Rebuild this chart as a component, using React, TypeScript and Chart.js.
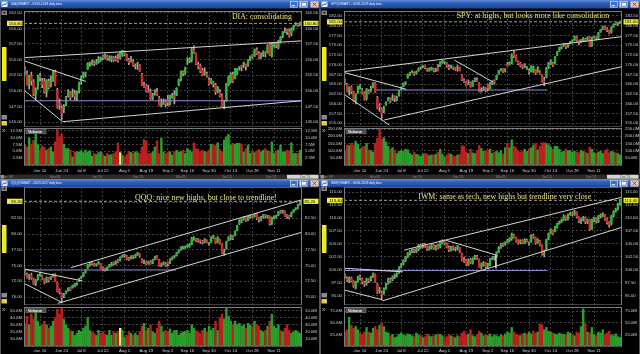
import React, { useEffect, useRef } from 'react';
import { Chart, registerables } from 'chart.js';

Chart.register(...registerables);

// ---------- shared axis data ----------
const xTickIdx = [7, 17, 26, 36, 46, 56, 66, 75, 85, 95, 105, 115];
const xTickNames = ['Jun 10', 'Jun 24', 'Jul 8', 'Jul 22', 'Aug 5', 'Aug 19', 'Sep 2', 'Sep 16', 'Sep 30', 'Oct 14', 'Oct 28', 'Nov 11'];
const navLabels = ['Dec 08', "Mar'09", "Jun'10", "Dec'10", "Mar'11", "Jun'12", "Dec'12", "Dec'13"];
const navLabelX = [2, 50, 92, 133, 176, 222, 266, 300];

// ---------- DIA ----------
const diaOpen = [
  153.4, 152.8, 151.1, 152.4, 151.4, 149.4, 150.4, 152.3, 151.6, 151.5,
  149.8, 151.5, 150.8, 151.7, 153.0, 150.1, 147.9, 147.2, 147.0, 147.8,
  149.2, 149.7, 149.4, 149.5, 148.9, 150.0, 151.5, 152.3, 152.7, 153.5,
  154.2, 154.4, 154.6, 154.4, 154.6, 155.0, 155.4, 155.4, 155.6, 155.0,
  155.0, 155.3, 155.2, 155.1, 155.2, 155.8, 156.2, 155.7, 155.0, 154.8,
  154.7, 153.9, 154.3, 154.1, 152.6, 150.9, 150.8, 149.9, 149.8, 148.9,
  149.8, 149.8, 148.8, 147.6, 148.0, 148.3, 148.6, 148.0, 149.1, 149.3,
  149.3, 151.0, 151.8, 153.0, 152.9, 154.6, 154.7, 155.1, 156.6, 156.0,
  154.2, 154.0, 153.3, 152.6, 152.8, 151.7, 151.3, 151.2, 150.9, 149.9,
  149.8, 149.2, 147.8, 148.4, 151.0, 151.5, 152.6, 152.0, 152.9, 153.6,
  153.9, 154.2, 154.2, 154.1, 155.0, 155.6, 155.6, 156.6, 156.0, 155.6,
  155.9, 156.1, 156.1, 157.4, 155.6, 157.4, 157.4, 156.9, 158.0, 158.7,
  159.4, 159.7, 159.6, 159.1, 160.0, 160.5, 160.6, 160.6,
];
const diaHigh = [
  153.9, 153.2, 152.5, 153.0, 151.8, 150.5, 152.5, 152.8, 152.0, 152.0,
  151.8, 151.9, 152.4, 153.2, 153.3, 150.4, 148.7, 147.6, 147.8, 149.1,
  150.2, 149.9, 150.3, 150.1, 149.9, 151.4, 152.4, 153.0, 153.0, 154.5,
  154.6, 154.9, 154.8, 155.0, 155.5, 155.4, 155.7, 155.9, 155.7, 155.6,
  155.6, 155.5, 155.6, 155.9, 156.3, 156.5, 156.4, 155.9, 155.2, 155.5,
  155.0, 154.3, 154.6, 154.2, 152.8, 151.4, 151.0, 150.9, 150.3, 149.6,
  150.2, 150.4, 149.1, 148.7, 148.7, 148.6, 149.3, 149.3, 149.6, 150.0,
  150.5, 151.9, 153.2, 153.2, 153.8, 155.3, 155.3, 156.9, 157.2, 156.1,
  154.6, 154.3, 153.6, 153.7, 153.0, 152.1, 152.0, 151.5, 151.2, 150.7,
  150.2, 149.5, 148.5, 151.2, 152.4, 152.9, 153.0, 153.6, 153.6, 153.9,
  154.1, 154.6, 154.3, 155.0, 155.6, 155.8, 156.7, 156.9, 156.3, 156.1,
  156.4, 156.3, 157.4, 157.6, 157.6, 157.8, 157.6, 158.1, 158.7, 159.5,
  160.1, 159.9, 159.9, 160.1, 160.5, 160.9, 160.8, 161.0,
];
const diaLow = [
  152.6, 150.9, 150.3, 150.9, 149.2, 148.6, 150.2, 151.5, 150.5, 149.6,
  149.0, 150.3, 150.6, 151.5, 150.8, 147.2, 147.0, 145.4, 146.5, 147.6,
  149.0, 148.5, 149.0, 148.5, 148.4, 149.6, 151.0, 152.0, 152.2, 153.4,
  153.9, 154.1, 154.0, 154.2, 154.4, 154.7, 155.0, 155.2, 154.9, 154.8,
  154.6, 154.7, 154.8, 154.6, 155.1, 155.5, 155.6, 154.8, 154.2, 154.6,
  153.9, 153.5, 153.4, 153.1, 150.8, 150.5, 149.8, 149.7, 148.6, 148.6,
  149.3, 149.2, 147.6, 147.4, 147.8, 147.4, 147.6, 147.7, 148.8, 147.9,
  149.2, 150.8, 151.6, 152.4, 152.6, 154.2, 154.5, 154.6, 156.0, 154.2,
  153.5, 152.9, 152.4, 152.5, 152.2, 150.9, 151.1, 150.6, 149.4, 149.7,
  149.0, 147.5, 147.1, 148.3, 150.8, 151.3, 151.3, 151.9, 152.6, 153.3,
  153.2, 153.7, 153.3, 153.9, 154.8, 155.2, 155.5, 155.8, 155.1, 155.2,
  155.5, 155.4, 156.0, 155.6, 155.4, 157.0, 156.9, 156.7, 157.8, 158.5,
  159.3, 159.0, 158.6, 158.8, 159.7, 160.4, 160.3, 160.4,
];
const diaClose = [
  153.0, 151.0, 152.3, 151.6, 149.4, 150.2, 152.3, 152.2, 151.0, 149.8,
  151.6, 150.5, 151.6, 153.0, 150.9, 147.4, 147.8, 146.4, 147.4, 148.9,
  150.0, 148.9, 149.6, 149.1, 149.7, 151.2, 152.1, 152.8, 152.7, 154.4,
  154.4, 154.6, 154.3, 154.5, 155.3, 155.2, 155.3, 155.5, 155.2, 155.4,
  155.4, 155.0, 155.0, 154.8, 156.1, 156.4, 155.9, 155.0, 154.5, 154.8,
  154.1, 154.0, 154.3, 153.2, 150.9, 150.6, 149.9, 149.8, 148.8, 149.4,
  149.9, 149.3, 147.6, 148.0, 148.2, 147.9, 148.1, 149.1, 149.2, 149.0,
  150.4, 151.7, 153.1, 152.8, 153.6, 154.7, 155.1, 156.6, 156.2, 154.3,
  153.8, 153.1, 152.5, 153.1, 152.4, 151.1, 151.7, 151.1, 149.8, 150.5,
  149.2, 147.6, 147.8, 151.1, 152.2, 152.8, 151.5, 153.5, 153.5, 153.8,
  153.7, 154.5, 153.9, 154.9, 155.5, 155.5, 156.6, 156.0, 155.3, 155.9,
  156.2, 156.0, 157.3, 155.7, 157.4, 157.6, 157.3, 158.0, 158.6, 159.4,
  159.6, 159.5, 158.8, 159.9, 160.4, 160.5, 160.5, 160.8,
];
const diaVol = [
  7.5, 6.6, 10, 7.6, 9, 11.2, 7.5, 5.4, 6.9, 6.4,
  5.4, 6, 6.6, 4.6, 8.5, 13, 10.3, 11.2, 7.6, 6,
  6, 5.4, 3, 4.8, 4.8, 4.8, 5.2, 4.5, 5.4, 4.8,
  5.2, 3.2, 4.2, 3.8, 4.5, 4.8, 3.8, 3.2, 4.2, 3.6,
  3.8, 4.2, 4.8, 8.1, 4.5, 3.6, 3, 3.8, 5, 4.6,
  4.2, 4.8, 4.5, 4.2, 6.6, 9.3, 8.7, 4.2, 4.2, 4.8,
  6.6, 8.8, 4.2, 9.7, 4.8, 4.2, 4.6, 4.8, 3.6, 4.8,
  5.4, 4.8, 4.8, 5.4, 4.2, 6, 5.4, 4.8, 8.1, 6,
  5.7, 4.8, 5.4, 4.8, 4.8, 5.4, 7.6, 7.3, 7.3, 8.1,
  5.7, 4.8, 9.1, 10.3, 11.2, 7.3, 7.9, 7.6, 7.9, 7.9,
  7.6, 4.8, 6, 7.3, 4.2, 5.2, 4.5, 5.2, 5.7, 4.8,
  5.4, 6, 5.2, 4.8, 8.5, 4.2, 5.2, 5.4, 7.3, 4.8,
  4.8, 5.4, 5.2, 8.1, 4.2, 4.2, 4.2, 5.4,
];
const diaLines = [
  [-0.4, 155.3, 127.9, 158.0],
  [17.4, 145.05, 127.9, 148.4],
  [-0.4, 154.8, 28.2, 151.5],
  [-0.4, 150.1, 17.4, 145.05],
];
const diaSupport = [[-0.4, 148.4, 127.9, 148.4]];

// ---------- SPY ----------
const spyOpen = [
  165.9, 165.0, 163.2, 164.2, 162.9, 160.9, 162.8, 164.3, 163.5, 162.6,
  161.4, 163.2, 163.2, 164.1, 165.2, 161.6, 159.5, 158.6, 158.2, 159.7,
  160.8, 161.2, 161.1, 161.8, 161.0, 162.2, 164.0, 164.5, 165.3, 166.6,
  167.3, 168.1, 167.9, 167.8, 168.4, 169.2, 169.5, 169.6, 169.0, 168.5,
  168.7, 168.9, 168.5, 169.3, 169.5, 170.5, 170.6, 170.3, 169.4, 169.3,
  169.4, 169.1, 169.2, 169.3, 167.4, 165.9, 165.6, 164.9, 165.3, 164.5,
  165.8, 166.0, 165.2, 163.0, 163.6, 163.9, 164.8, 163.8, 165.1, 165.9,
  166.3, 167.7, 168.4, 168.9, 168.6, 170.1, 170.0, 170.4, 173.0, 172.3,
  170.8, 170.4, 169.9, 169.3, 169.0, 168.3, 168.2, 168.3, 168.7, 168.2,
  168.2, 167.3, 165.7, 166.7, 169.2, 170.0, 170.3, 170.2, 172.5, 173.5,
  174.4, 174.8, 175.3, 174.8, 175.5, 176.1, 176.3, 177.1, 176.2, 176.0,
  176.2, 176.4, 176.7, 177.1, 175.0, 176.9, 176.9, 176.8, 178.4, 179.3,
  179.8, 179.2, 178.7, 178.4, 179.8, 180.6, 180.5, 180.6,
];
const spyHigh = [
  166.3, 165.2, 164.3, 164.6, 163.2, 162.5, 164.5, 164.9, 163.9, 163.0,
  163.9, 163.6, 164.5, 165.4, 165.4, 161.9, 160.0, 158.9, 159.3, 160.5,
  161.6, 161.5, 162.3, 162.0, 161.9, 163.4, 164.3, 165.3, 165.6, 167.6,
  168.1, 168.5, 168.2, 168.4, 169.2, 169.4, 169.8, 169.7, 169.1, 169.2,
  169.4, 169.1, 169.1, 170.0, 170.8, 171.1, 170.9, 170.5, 169.9, 169.9,
  169.5, 169.3, 169.8, 169.4, 167.5, 166.4, 165.7, 166.1, 165.6, 165.9,
  166.6, 166.6, 165.4, 164.1, 164.4, 164.1, 165.0, 165.4, 165.9, 166.1,
  167.3, 168.5, 169.0, 169.0, 169.0, 170.6, 170.7, 172.8, 173.6, 172.4,
  171.0, 170.6, 170.0, 170.3, 169.5, 168.9, 169.8, 169.6, 168.8, 169.5,
  168.5, 167.4, 166.8, 169.3, 170.6, 171.3, 170.6, 172.1, 173.4, 174.5,
  174.6, 175.5, 175.4, 175.4, 176.0, 176.3, 177.4, 177.3, 176.3, 176.5,
  177.0, 176.8, 177.2, 177.2, 177.1, 177.3, 177.2, 178.3, 179.1, 179.9,
  180.0, 179.5, 178.9, 179.8, 180.5, 180.8, 180.9, 181.2,
];
const spyLow = [
  164.9, 163.0, 162.2, 162.5, 160.6, 159.9, 162.6, 163.7, 162.4, 160.9,
  160.9, 162.5, 163.0, 164.0, 162.8, 158.6, 158.0, 155.9, 157.7, 159.5,
  160.7, 160.2, 160.8, 160.5, 160.7, 161.9, 163.5, 164.3, 164.8, 166.5,
  167.2, 167.9, 167.2, 167.6, 168.3, 168.8, 169.2, 168.9, 168.3, 168.3,
  168.6, 168.1, 168.2, 168.4, 169.5, 170.3, 170.2, 169.3, 168.7, 169.1,
  168.8, 168.5, 168.3, 168.4, 165.9, 165.4, 164.5, 164.9, 164.2, 164.4,
  165.6, 165.6, 163.0, 163.0, 163.4, 163.0, 163.3, 163.8, 164.9, 165.0,
  166.1, 167.5, 168.4, 168.0, 168.1, 169.6, 169.9, 170.2, 171.8, 170.9,
  170.0, 169.4, 169.0, 169.2, 168.8, 167.6, 168.1, 168.0, 167.5, 168.0,
  167.5, 165.5, 164.6, 166.6, 169.0, 170.0, 169.5, 170.2, 172.3, 173.4,
  174.0, 174.6, 174.1, 174.4, 175.3, 175.7, 176.2, 176.0, 175.1, 175.6,
  175.9, 175.9, 176.3, 174.6, 174.7, 176.8, 176.3, 176.4, 178.3, 179.0,
  178.9, 178.5, 177.9, 178.1, 179.6, 180.2, 180.1, 180.5,
];
const spyClose = [
  165.4, 163.1, 164.0, 163.1, 160.9, 162.3, 164.3, 164.3, 162.6, 161.2,
  163.6, 162.7, 163.9, 165.2, 162.9, 158.8, 159.2, 157.3, 158.8, 160.3,
  161.3, 160.6, 161.4, 161.4, 161.5, 163.2, 164.0, 165.2, 165.3, 167.5,
  168.0, 168.2, 167.6, 168.1, 168.9, 169.2, 169.5, 169.2, 168.6, 169.0,
  169.2, 168.5, 168.6, 168.6, 170.7, 171.0, 170.7, 169.7, 169.1, 169.7,
  169.1, 168.9, 169.4, 168.5, 166.1, 165.6, 164.6, 165.2, 164.3, 165.7,
  166.3, 165.7, 163.0, 163.5, 163.8, 163.3, 164.0, 165.3, 165.5, 165.5,
  167.2, 168.4, 168.9, 168.3, 168.8, 169.8, 170.5, 172.5, 172.2, 171.0,
  170.2, 169.7, 169.3, 169.9, 169.2, 168.1, 169.5, 169.4, 167.9, 169.0,
  167.6, 165.5, 165.6, 169.2, 170.3, 171.0, 169.8, 172.1, 173.3, 174.4,
  174.4, 175.4, 174.6, 175.2, 175.9, 176.2, 177.2, 176.3, 175.6, 176.2,
  176.8, 176.3, 177.0, 174.7, 177.0, 177.2, 176.8, 178.2, 179.0, 179.8,
  179.1, 178.8, 178.1, 179.6, 180.4, 180.5, 180.6, 181.0,
];
const spyVol = [
  95, 140, 135, 150, 140, 165, 145, 110, 125, 130,
  150, 105, 100, 90, 150, 185, 250, 180, 190, 160,
  130, 110, 120, 100, 80, 95, 100, 95, 110, 105,
  80, 70, 90, 75, 70, 60, 75, 80, 75, 65,
  70, 70, 75, 90, 110, 75, 55, 70, 80, 75,
  65, 60, 70, 75, 135, 130, 90, 80, 110, 85,
  80, 100, 135, 115, 95, 100, 100, 110, 80, 90,
  95, 85, 100, 75, 120, 150, 120, 175, 130, 120,
  100, 90, 95, 110, 95, 110, 120, 140, 150, 105,
  130, 155, 155, 150, 140, 125, 110, 130, 130, 110,
  90, 95, 110, 100, 100, 90, 95, 90, 85, 100,
  95, 90, 80, 125, 110, 85, 80, 90, 95, 80,
  100, 110, 85, 95, 90, 85, 80, 70,
];
const spyLines = [
  [-0.4, 168.2, 127.9, 177.2],
  [18.2, 155.8, 127.9, 169.5],
  [-0.4, 168.0, 28.2, 163.7],
  [-0.4, 162.4, 20.5, 154.5],
  [50.5, 171.2, 68.1, 165.6],
];
const spySupport = [[14.4, 163.5, 93.5, 163.5]];

// ---------- QQQ ----------
const qqqOpen = [
  74.0, 73.6, 73.2, 73.5, 72.9, 72.2, 72.8, 73.5, 73.4, 72.8,
  72.5, 73.0, 72.9, 73.3, 73.5, 72.3, 71.1, 70.5, 70.2, 70.6,
  71.0, 71.5, 71.5, 71.7, 72.0, 72.6, 73.0, 73.3, 73.9, 74.6,
  75.1, 75.4, 75.3, 75.1, 75.3, 75.2, 74.6, 74.5, 74.3, 74.8,
  75.0, 75.4, 75.4, 75.8, 75.8, 76.4, 76.6, 76.5, 76.1, 76.1,
  76.5, 76.3, 76.7, 76.8, 76.0, 75.5, 75.6, 75.3, 75.6, 75.4,
  76.0, 76.4, 75.9, 74.9, 75.2, 75.3, 75.5, 75.4, 76.0, 76.4,
  76.6, 77.1, 77.5, 77.9, 77.8, 78.1, 78.0, 78.4, 79.3, 79.2,
  79.1, 78.9, 78.9, 78.7, 79.0, 78.4, 78.7, 79.4, 79.3, 78.7,
  79.1, 78.4, 76.9, 77.7, 79.0, 79.2, 79.5, 79.8, 80.6, 81.6,
  82.1, 82.4, 82.7, 82.3, 82.7, 82.9, 82.8, 83.2, 82.6, 82.3,
  82.7, 83.0, 82.7, 82.8, 81.7, 82.6, 82.6, 83.0, 83.6, 83.5,
  83.6, 82.9, 82.9, 82.8, 83.5, 83.9, 84.1, 84.7,
];
const qqqHigh = [
  74.2, 73.8, 73.6, 73.8, 73.0, 72.8, 73.6, 73.9, 73.5, 72.9,
  73.2, 73.1, 73.3, 73.7, 73.7, 72.4, 71.3, 70.6, 70.6, 71.0,
  71.5, 71.6, 71.9, 72.2, 72.3, 73.0, 73.3, 73.9, 74.3, 75.2,
  75.5, 75.6, 75.4, 75.3, 75.7, 75.3, 74.8, 74.6, 74.8, 75.2,
  75.5, 75.6, 75.8, 76.0, 76.4, 76.7, 76.8, 76.6, 76.3, 76.6,
  76.6, 76.8, 77.1, 76.9, 76.1, 75.9, 75.7, 75.7, 75.8, 76.0,
  76.5, 76.6, 76.0, 75.4, 75.6, 75.5, 75.6, 76.1, 76.4, 76.6,
  77.1, 77.5, 78.0, 78.1, 78.1, 78.3, 78.5, 79.5, 79.6, 79.3,
  79.3, 79.1, 79.0, 79.3, 79.1, 78.7, 79.6, 79.8, 79.4, 79.6,
  79.2, 78.5, 77.6, 78.9, 79.6, 79.9, 79.7, 80.5, 81.4, 82.3,
  82.4, 82.8, 82.8, 82.8, 83.0, 83.0, 83.2, 83.3, 82.7, 82.8,
  83.1, 83.1, 83.0, 82.9, 82.7, 82.9, 83.0, 83.6, 83.8, 83.8,
  83.7, 83.1, 83.0, 83.5, 83.9, 84.2, 84.7, 85.3,
];
const qqqLow = [
  73.5, 73.0, 72.8, 72.8, 72.0, 71.8, 72.7, 73.3, 72.8, 72.1,
  72.3, 72.4, 72.8, 73.2, 72.5, 70.8, 70.5, 69.3, 69.9, 70.5,
  70.9, 71.0, 71.4, 71.6, 71.9, 72.5, 72.9, 73.2, 73.8, 74.5,
  74.9, 75.1, 74.9, 74.9, 75.2, 74.5, 74.2, 74.1, 74.2, 74.7,
  74.9, 75.1, 75.2, 75.4, 75.7, 76.3, 76.3, 75.9, 75.8, 76.0,
  76.1, 76.2, 76.6, 76.3, 75.4, 75.3, 75.1, 75.2, 75.2, 75.3,
  75.9, 76.0, 74.9, 74.8, 75.1, 74.8, 74.9, 75.3, 75.9, 76.2,
  76.5, 77.0, 77.4, 77.6, 77.7, 77.9, 77.9, 78.3, 79.0, 78.8,
  78.7, 78.5, 78.4, 78.6, 78.6, 78.2, 78.6, 79.3, 78.5, 78.6,
  78.4, 76.9, 76.6, 77.6, 78.9, 79.1, 79.1, 79.7, 80.5, 81.5,
  81.8, 82.2, 82.0, 82.1, 82.5, 82.6, 82.7, 82.3, 81.9, 82.1,
  82.5, 82.6, 82.5, 81.4, 81.5, 82.4, 82.5, 82.9, 83.3, 83.3,
  82.8, 82.5, 82.4, 82.7, 83.4, 83.8, 84.0, 84.6,
];
const qqqClose = [
  73.8, 73.1, 73.4, 73.0, 72.1, 72.6, 73.5, 73.6, 72.9, 72.3,
  73.1, 72.6, 73.2, 73.6, 72.6, 70.9, 70.8, 69.9, 70.4, 70.9,
  71.4, 71.2, 71.8, 72.1, 72.2, 72.9, 73.2, 73.8, 74.2, 75.1,
  75.3, 75.3, 75.0, 75.2, 75.5, 74.6, 74.4, 74.3, 74.6, 75.1,
  75.3, 75.3, 75.7, 75.6, 76.3, 76.6, 76.6, 76.1, 76.0, 76.4,
  76.4, 76.7, 77.0, 76.5, 75.5, 75.6, 75.2, 75.5, 75.3, 75.9,
  76.4, 76.1, 74.9, 75.1, 75.4, 74.9, 75.3, 76.0, 76.3, 76.5,
  77.0, 77.4, 77.9, 77.9, 78.0, 78.1, 78.4, 79.4, 79.3, 79.0,
  78.9, 78.8, 78.6, 79.1, 78.7, 78.5, 79.5, 79.6, 78.6, 79.4,
  78.5, 77.0, 77.1, 78.8, 79.4, 79.7, 79.3, 80.4, 81.3, 82.1,
  82.2, 82.6, 82.2, 82.6, 82.8, 82.8, 83.1, 82.5, 82.3, 82.6,
  83.0, 82.8, 82.9, 81.6, 82.6, 82.7, 82.9, 83.5, 83.5, 83.6,
  82.9, 82.8, 82.6, 83.4, 83.8, 84.0, 84.6, 85.2,
];
const qqqVol = [
  32, 42, 30, 45, 38, 48, 35, 28, 30, 35,
  30, 25, 28, 35, 40, 52, 45, 55, 38, 30,
  25, 22, 20, 15, 18, 22, 20, 25, 28, 40,
  22, 20, 18, 15, 22, 18, 20, 17, 15, 22,
  15, 20, 18, 20, 25, 22, 12, 15, 20, 18,
  15, 18, 15, 20, 28, 32, 22, 25, 30, 20,
  18, 25, 35, 28, 20, 22, 20, 24, 18, 22,
  22, 15, 18, 20, 20, 22, 18, 30, 25, 22,
  20, 18, 22, 25, 20, 28, 22, 25, 35, 22,
  40, 45, 38, 58, 42, 35, 30, 35, 30, 32,
  28, 30, 25, 32, 30, 28, 35, 30, 28, 22,
  20, 22, 28, 35, 45, 28, 25, 30, 22, 20,
  25, 30, 22, 18, 20, 22, 20, 18,
];
const qqqLines = [
  [21.3, 74.67, 127.9, 85.45],
  [15.2, 69.0, 127.9, 80.3],
  [-0.4, 74.45, 26.7, 72.55],
  [-0.4, 72.18, 17.4, 69.1],
];
const qqqSupport = [[-0.4, 74.3, 69.7, 74.3]];

// ---------- IWM ----------
const iwmOpen = [
  98.9, 98.4, 97.9, 98.4, 97.7, 96.8, 97.8, 98.6, 98.2, 97.5,
  97.3, 98.1, 98.0, 98.6, 99.1, 97.3, 95.9, 95.6, 95.6, 96.4,
  97.4, 98.1, 98.1, 98.6, 99.0, 99.5, 100.6, 101.1, 101.8, 102.5,
  103.0, 103.5, 103.8, 103.5, 103.9, 104.7, 104.4, 104.9, 104.4, 104.0,
  104.2, 104.8, 104.0, 104.6, 104.4, 105.2, 105.5, 105.0, 104.3, 103.8,
  104.4, 104.0, 104.3, 104.2, 103.1, 101.9, 101.8, 101.0, 101.9, 101.3,
  102.2, 102.5, 102.0, 100.6, 100.9, 101.3, 100.9, 101.0, 102.1, 102.3,
  102.5, 103.4, 104.3, 104.9, 104.9, 105.4, 105.6, 106.0, 106.7, 106.2,
  105.6, 105.2, 105.7, 105.1, 105.7, 105.0, 105.4, 106.6, 106.2, 105.2,
  105.6, 104.7, 102.9, 103.9, 105.9, 107.0, 107.6, 107.4, 108.1, 108.9,
  109.3, 109.7, 110.3, 109.8, 110.7, 111.0, 110.7, 111.1, 110.1, 109.3,
  109.7, 110.0, 109.2, 109.6, 108.0, 109.7, 109.8, 109.3, 110.4, 110.5,
  110.6, 109.8, 109.1, 108.8, 110.4, 111.3, 111.7, 112.6,
];
const iwmHigh = [
  99.2, 98.7, 98.6, 98.6, 97.9, 97.8, 98.8, 99.0, 98.4, 97.8,
  98.4, 98.3, 98.8, 99.4, 99.2, 97.4, 96.6, 95.9, 96.5, 97.4,
  98.4, 98.4, 98.8, 99.2, 99.4, 100.6, 101.2, 101.9, 102.6, 103.3,
  103.7, 104.0, 104.0, 104.1, 104.9, 104.9, 105.1, 105.1, 104.6, 104.6,
  105.0, 104.9, 104.7, 104.9, 105.6, 105.8, 105.6, 105.2, 104.6, 104.5,
  104.6, 104.4, 104.7, 104.3, 103.2, 102.4, 102.0, 102.1, 102.2, 102.3,
  102.8, 102.8, 102.1, 101.3, 101.6, 101.4, 101.3, 102.2, 102.5, 102.6,
  103.5, 104.5, 105.1, 105.2, 105.4, 105.9, 106.2, 107.1, 106.9, 106.3,
  105.8, 105.8, 105.8, 106.0, 105.9, 105.4, 106.8, 106.9, 106.3, 106.0,
  105.7, 104.8, 103.8, 105.9, 107.1, 107.9, 107.7, 108.4, 109.0, 109.4,
  109.8, 110.6, 110.4, 110.8, 111.1, 111.2, 111.5, 111.2, 110.2, 109.9,
  110.3, 110.2, 109.8, 109.7, 109.8, 110.1, 110.0, 110.5, 110.8, 111.0,
  110.7, 110.0, 109.3, 110.5, 111.4, 111.9, 112.8, 113.6,
];
const iwmLow = [
  98.3, 97.7, 97.5, 97.6, 96.6, 96.3, 97.6, 98.1, 97.3, 96.8,
  97.0, 97.5, 97.8, 98.5, 97.6, 95.4, 95.5, 94.3, 95.3, 96.2,
  97.2, 97.5, 97.9, 98.3, 98.6, 99.3, 100.4, 100.9, 101.6, 102.3,
  102.8, 103.3, 103.3, 103.3, 103.7, 104.1, 104.2, 104.3, 103.7, 103.8,
  104.0, 103.9, 103.8, 104.0, 104.2, 105.0, 104.8, 104.2, 103.5, 103.6,
  103.8, 103.6, 103.8, 103.3, 101.7, 101.4, 100.8, 100.8, 101.2, 101.1,
  102.0, 102.0, 100.5, 100.2, 100.7, 100.3, 100.2, 100.8, 101.9, 101.9,
  102.4, 103.3, 104.1, 104.5, 104.7, 105.2, 105.4, 105.7, 106.1, 105.3,
  104.9, 105.0, 105.0, 105.0, 105.3, 104.7, 105.3, 106.1, 104.9, 105.1,
  104.6, 102.8, 102.5, 103.8, 105.8, 106.9, 106.7, 107.3, 108.0, 108.8,
  109.1, 109.5, 109.5, 109.6, 110.5, 110.4, 110.5, 110.0, 109.1, 108.9,
  109.4, 108.9, 108.9, 107.6, 107.8, 109.3, 109.0, 109.1, 110.0, 110.2,
  109.5, 108.8, 108.2, 108.6, 110.2, 111.1, 111.5, 112.4,
];
const iwmClose = [
  98.6, 98.0, 98.3, 97.8, 96.9, 97.6, 98.6, 98.5, 97.6, 97.2,
  98.2, 97.8, 98.6, 99.2, 97.8, 95.6, 96.2, 95.2, 96.3, 97.2,
  98.2, 97.8, 98.6, 98.9, 99.1, 100.4, 100.9, 101.7, 102.4, 103.1,
  103.4, 103.8, 103.6, 103.9, 104.6, 104.4, 104.8, 104.5, 104.0, 104.3,
  104.8, 104.1, 104.5, 104.2, 105.3, 105.4, 105.1, 104.4, 103.8, 104.3,
  104.1, 104.2, 104.3, 103.5, 101.9, 101.7, 101.0, 101.9, 101.4, 102.1,
  102.6, 102.2, 100.6, 100.9, 101.3, 100.5, 101.0, 102.0, 102.2, 102.3,
  103.3, 104.3, 104.9, 104.8, 105.2, 105.6, 106.0, 106.8, 106.3, 105.5,
  105.1, 105.6, 105.2, 105.8, 105.5, 105.2, 106.6, 106.3, 105.1, 105.8,
  104.8, 103.0, 103.2, 105.8, 106.9, 107.8, 106.9, 108.3, 108.8, 109.2,
  109.6, 110.3, 109.8, 110.6, 110.9, 110.7, 111.2, 110.2, 109.4, 109.6,
  110.0, 109.2, 109.5, 107.9, 109.6, 109.8, 109.4, 110.3, 110.4, 110.7,
  109.7, 109.1, 108.7, 110.3, 111.2, 111.6, 112.6, 113.4,
];
const iwmVol = [
  30, 35, 62, 45, 38, 42, 35, 28, 25, 30,
  40, 30, 28, 38, 42, 35, 45, 50, 42, 30,
  28, 22, 25, 18, 20, 25, 28, 24, 22, 26,
  25, 22, 20, 28, 24, 22, 18, 20, 25, 22,
  20, 22, 24, 26, 25, 22, 18, 20, 24, 22,
  20, 18, 22, 20, 28, 32, 24, 26, 35, 22,
  20, 25, 32, 28, 22, 25, 22, 26, 20, 24,
  22, 20, 24, 22, 26, 30, 28, 40, 30, 25,
  24, 22, 26, 28, 25, 30, 26, 32, 28, 30,
  48, 46, 35, 40, 32, 30, 28, 26, 24, 28,
  26, 25, 24, 30, 28, 25, 22, 30, 28, 42,
  80, 48, 30, 28, 40, 25, 22, 30, 28, 35,
  25, 28, 32, 24, 22, 26, 20, 18,
];
const iwmLines = [
  [27.4, 103.8, 127.9, 114.0],
  [17.4, 94.0, 127.9, 108.2],
  [-0.4, 100.3, 26.7, 99.6],
  [-0.4, 96.1, 17.4, 94.2],
  [46.6, 105.7, 69.7, 102.85],
  [69.7, 102.85, 69.7, 100.3],
];
const iwmSupport = [[-0.4, 99.85, 93.5, 99.85]];

// ---------- styling / layout ----------
const GREEN = '#2eb82e';
const RED = '#d62828';
const WICK = '#a6a6a6';
const VGREEN = '#2a9f2a';
const VRED = '#bb2020';
const VYEL = '#f2ee80';
const LINE = '#d4d4d4';
const LAV = '#9090d8';
const GRID = '#414141';
const FRAME = '#7c7c7c';
const TXT = '#d0d0d0';
const YEL = '#eef03a';
const NOTE = '#ebe27c';
const SANS = 'Liberation Sans';
const SERIF = 'Liberation Serif';
const X_MIN = -0.4;
const X_MAX = 127.9;
const AX_FONT = { family: SANS, size: 4.3 };

const GEO_TOP = { priceH: 127, pricePadTop: 11, volH: 52, volPadTop: 1, volPlotH: 37, xLabelPad: 3, nav: true, yBar: [47, 81] };
const GEO_BOTTOM = { priceH: 126, pricePadTop: 8, volH: 49, volPadTop: 2, volPlotH: 39, xLabelPad: 2, nav: false, yBar: [46, 74] };

const PANELS = [
  {
    key: 'dia', left: 0, top: 0, geo: GEO_TOP,
    title: 'DIA@SMART - 05/30-11/28 daily bars', note: 'DIA: consolidating', noteBox: [232, 16.5, 60],
    open: diaOpen, high: diaHigh, low: diaLow, close: diaClose, vol: diaVol,
    yMin: 144.2, yMax: 162.78, vMax: 13.5, vStep: 2.5, lines: diaLines, support: diaSupport, highlight: 44,
  },
  {
    key: 'spy', left: 320, top: 0, geo: GEO_TOP,
    title: 'SPY@SMART - 05/30-11/28 daily bars', note: 'SPY: at highs, but looks more like consolidation', noteBox: [136.7, 16.3, 153],
    open: spyOpen, high: spyHigh, low: spyLow, close: spyClose, vol: spyVol,
    yMin: 153.99, yMax: 183.78, vMax: 257, vStep: 50, lines: spyLines, support: spySupport, highlight: -1,
  },
  {
    key: 'qqq', left: 0, top: 179, geo: GEO_BOTTOM,
    title: 'QQQ@SMART - 05/29-11/27 daily bars', note: 'QQQ: nice new highs, but close to trendline!', noteBox: [135, 19, 142],
    open: qqqOpen, high: qqqHigh, low: qqqLow, close: qqqClose, vol: qqqVol,
    yMin: 68.74, yMax: 87.47, vMax: 55, vStep: 10, lines: qqqLines, support: qqqSupport, highlight: 44,
  },
  {
    key: 'iwm', left: 320, top: 179, geo: GEO_BOTTOM,
    title: 'IWM@SMART - 05/30-11/28 daily bars', note: 'IWM: same as tech, new highs but trendline very close', noteBox: [98.3, 18.3, 173],
    open: iwmOpen, high: iwmHigh, low: iwmLow, close: iwmClose, vol: iwmVol,
    yMin: 93.2, yMax: 115.97, vMax: 84, vStep: 25, lines: iwmLines, support: iwmSupport, highlight: -1,
  },
];

// ---------- drawing helpers ----------
function fitText(ctx: any, text: string, x: number, y: number, w: number, family: string, color: string) {
  ctx.font = `10px "${family}"`;
  const m = ctx.measureText(text).width || 1;
  const size = (10 * w) / m;
  ctx.font = `${size}px "${family}"`;
  ctx.fillStyle = color;
  ctx.textAlign = 'left';
  ctx.textBaseline = 'middle';
  ctx.fillText(text, x, y);
}

function drawTitleBar(ctx: any, title: string) {
  const h = 8.5;
  const gr = ctx.createLinearGradient(0, 0, 0, h);
  gr.addColorStop(0, '#628fdc');
  gr.addColorStop(0.35, '#2f60b8');
  gr.addColorStop(1, '#1c4594');
  ctx.fillStyle = gr;
  ctx.fillRect(0, 0, 320, h);
  ctx.fillStyle = '#e6ecf8';
  ctx.fillRect(1.5, 1.5, 6, 5.5);
  ctx.strokeStyle = '#2050a0';
  ctx.lineWidth = 0.8;
  ctx.beginPath();
  ctx.moveTo(2.2, 6);
  ctx.lineTo(3.8, 3.8);
  ctx.lineTo(5, 5);
  ctx.lineTo(6.8, 2.4);
  ctx.stroke();
  fitText(ctx, title, 11, 4.4, 51, SANS, '#f4f6ff');
  // minimize
  ctx.fillStyle = '#3c6fd8';
  ctx.fillRect(290, 1, 8, 6.5);
  ctx.strokeStyle = '#dfe8ff';
  ctx.lineWidth = 0.6;
  ctx.strokeRect(290.3, 1.3, 7.4, 5.9);
  ctx.fillStyle = '#ffffff';
  ctx.fillRect(291.8, 5.2, 3.2, 1);
  // maximize
  ctx.fillStyle = '#f2f4fa';
  ctx.fillRect(299.5, 1, 8, 6.5);
  ctx.strokeStyle = '#7f9ad0';
  ctx.strokeRect(299.8, 1.3, 7.4, 5.9);
  ctx.strokeStyle = '#3a5ea8';
  ctx.lineWidth = 0.7;
  ctx.strokeRect(301.3, 2.6, 5, 3.6);
  // close
  ctx.fillStyle = '#e2d0c8';
  ctx.fillRect(310.5, 1, 8, 6.5);
  ctx.strokeStyle = '#b09080';
  ctx.lineWidth = 0.6;
  ctx.strokeRect(310.8, 1.3, 7.4, 5.9);
  ctx.strokeStyle = '#9a2a1a';
  ctx.lineWidth = 0.9;
  ctx.beginPath();
  ctx.moveTo(312.6, 2.6);
  ctx.lineTo(316.4, 6.2);
  ctx.moveTo(316.4, 2.6);
  ctx.lineTo(312.6, 6.2);
  ctx.stroke();
}

function panelEdges(ctx: any, y0: number, y1: number) {
  ctx.strokeStyle = '#565656';
  ctx.lineWidth = 1;
  ctx.beginPath();
  ctx.moveTo(0.5, y0);
  ctx.lineTo(0.5, y1);
  ctx.moveTo(319.5, y0);
  ctx.lineTo(319.5, y1);
  ctx.stroke();
}

function yAxis(pos: string, min: number, max: number, step: number, fmt: any, width: number, grid: boolean) {
  return {
    type: 'linear',
    position: pos,
    min,
    max,
    afterFit: (s: any) => {
      s.width = width;
      s.paddingTop = 0;
      s.paddingBottom = 0;
    },
    ticks: {
      stepSize: step,
      includeBounds: false,
      autoSkip: false,
      color: TXT,
      font: AX_FONT,
      padding: pos === 'left' ? 2 : 3,
      callback: fmt,
    },
    grid: grid ? { color: GRID, drawTicks: false, lineWidth: 1 } : { display: false, drawTicks: false },
    border: { display: false, dash: [2, 2] },
  };
}

function xAxis(showLabels: boolean, height: number, pad: number) {
  return {
    type: 'linear',
    min: X_MIN,
    max: X_MAX,
    offset: false,
    afterBuildTicks: (s: any) => {
      s.ticks = xTickIdx.map((v) => ({ value: v }));
    },
    afterFit: (s: any) => {
      s.height = height;
      s.paddingLeft = 0;
      s.paddingRight = 0;
    },
    ticks: {
      display: showLabels,
      autoSkip: false,
      maxRotation: 0,
      minRotation: 0,
      color: TXT,
      font: AX_FONT,
      padding: pad,
      callback: (v: any) => {
        const k = xTickIdx.indexOf(Number(v));
        return k >= 0 ? xTickNames[k] : '';
      },
    },
    grid: { color: GRID, drawTicks: false, offset: false },
    border: { display: false, dash: [2, 2] },
  };
}

const priceFmt = (v: any) => Number(v).toFixed(2);
const volFmt = (v: any) => (Number(v) === 0 ? '' : Number(v).toFixed(1) + 'M');

function buildPrice(canvas: HTMLCanvasElement, p: any) {
  const g = p.geo;
  const n = p.close.length;
  const idx = p.close.map((_: number, i: number) => i);
  const wick = idx.map((i: number) => ({ x: i, y: [p.low[i], p.high[i]] }));
  const body = idx.map((i: number) => ({ x: i, y: [p.open[i], p.close[i]] }));
  const bodyColor = idx.map((i: number) => (p.close[i] >= p.open[i] ? GREEN : RED));
  const segs = [
    ...p.lines.map((s: number[]) => ({ s, c: LINE })),
    ...p.support.map((s: number[]) => ({ s, c: LAV })),
  ];
  const lineSets = segs.map(({ s, c }: any) => ({
    type: 'line',
    data: [{ x: s[0], y: s[1] }, { x: s[2], y: s[3] }],
    borderColor: c,
    borderWidth: 1,
    pointRadius: 0,
    fill: false,
    tension: 0,
    order: 0,
  }));
  const last = p.close[n - 1];

  const deco = {
    id: 'priceDeco',
    beforeDraw(chart: any) {
      const ctx = chart.ctx;
      ctx.save();
      ctx.fillStyle = '#000';
      ctx.fillRect(0, 0, chart.width, chart.height);
      ctx.restore();
    },
    beforeDatasetsDraw(chart: any) {
      const ctx = chart.ctx;
      const a = chart.chartArea;
      const y = chart.scales.y.getPixelForValue(last);
      ctx.save();
      ctx.strokeStyle = '#c8c8c8';
      ctx.lineWidth = 0.8;
      ctx.setLineDash([3, 2]);
      ctx.beginPath();
      ctx.moveTo(a.left, y);
      ctx.lineTo(a.right, y);
      ctx.stroke();
      ctx.restore();
    },
    afterDraw(chart: any) {
      const ctx = chart.ctx;
      const a = chart.chartArea;
      ctx.save();
      ctx.setLineDash([]);
      ctx.strokeStyle = FRAME;
      ctx.lineWidth = 1;
      ctx.strokeRect(a.left + 0.5, a.top + 0.5, a.right - a.left - 1, a.bottom - a.top - 0.5);
      panelEdges(ctx, 8.5, chart.height);
      drawTitleBar(ctx, p.title);
      // left gutter icons
      ctx.fillStyle = '#8c8c8c';
      ctx.fillRect(1.5, g.pricePadTop - 0.5, 5.5, 4.5);
      ctx.strokeStyle = '#202020';
      ctx.lineWidth = 0.8;
      ctx.beginPath();
      ctx.moveTo(4.25, g.pricePadTop + 0.3);
      ctx.lineTo(4.25, g.pricePadTop + 3.2);
      ctx.moveTo(2.6, g.pricePadTop + 1.75);
      ctx.lineTo(5.9, g.pricePadTop + 1.75);
      ctx.stroke();
      ctx.fillStyle = '#f0ec1a';
      ctx.fillRect(2, g.yBar[0], 4.5, g.yBar[1] - g.yBar[0]);
      ctx.fillStyle = '#8c8c8c';
      ctx.fillRect(1.5, g.priceH - 12, 5.5, 4.5);
      ctx.fillStyle = '#e0d040';
      ctx.fillRect(1.5, g.priceH - 6, 5.5, 4.5);
      // last price tags
      const y = chart.scales.y.getPixelForValue(last);
      ctx.fillStyle = YEL;
      ctx.fillRect(7, y - 2.6, 15.5, 5.2);
      ctx.fillRect(303.5, y - 2.6, 15, 5.2);
      ctx.fillStyle = '#000';
      ctx.font = `4.3px "${SANS}"`;
      ctx.textBaseline = 'middle';
      ctx.textAlign = 'right';
      ctx.fillText(last.toFixed(2), 22, y + 0.2);
      ctx.textAlign = 'left';
      ctx.fillText(last.toFixed(2), 304.5, y + 0.2);
      // annotation text
      fitText(ctx, p.note, p.noteBox[0], p.noteBox[1], p.noteBox[2], SERIF, NOTE);
      ctx.restore();
    },
  };

  return new Chart(canvas, {
    type: 'bar',
    data: {
      datasets: [
        { type: 'bar', data: wick, backgroundColor: WICK, barThickness: 1, grouped: false, order: 3 },
        { type: 'bar', data: body, backgroundColor: bodyColor, barThickness: 1.6, grouped: false, minBarLength: 1, order: 2 },
        ...lineSets,
      ],
    } as any,
    options: {
      animation: false,
      responsive: false,
      maintainAspectRatio: false,
      devicePixelRatio: 1,
      events: [],
      layout: { padding: { top: g.pricePadTop, bottom: 0, left: 0, right: 0 } },
      plugins: { legend: { display: false }, tooltip: { enabled: false }, title: { display: false } },
      scales: {
        x: xAxis(false, 0, 0),
        y: yAxis('left', p.yMin, p.yMax, 2.5, priceFmt, 24, true),
        y2: yAxis('right', p.yMin, p.yMax, 2.5, priceFmt, 18, false),
      },
    } as any,
    plugins: [deco],
  });
}

function buildVolume(canvas: HTMLCanvasElement, p: any) {
  const g = p.geo;
  const pts = p.vol.map((v: number, i: number) => ({ x: i, y: v }));
  const cols = p.vol.map((_: number, i: number) =>
    i === p.highlight ? VYEL : p.close[i] >= p.open[i] ? VGREEN : VRED
  );
  const deco = {
    id: 'volDeco',
    beforeDraw(chart: any) {
      const ctx = chart.ctx;
      ctx.save();
      ctx.fillStyle = '#000';
      ctx.fillRect(0, 0, chart.width, chart.height);
      ctx.restore();
    },
    afterDraw(chart: any) {
      const ctx = chart.ctx;
      const a = chart.chartArea;
      ctx.save();
      ctx.setLineDash([]);
      ctx.strokeStyle = FRAME;
      ctx.lineWidth = 1;
      ctx.strokeRect(a.left + 0.5, a.top + 0.5, a.right - a.left - 1, a.bottom - a.top - 0.5);
      panelEdges(ctx, 0, g.nav ? chart.height - 4.5 : chart.height);
      // "Volume" tag
      ctx.fillStyle = '#4a4a4a';
      ctx.fillRect(a.left + 2, a.top + 0.8, 20, 5);
      ctx.strokeStyle = '#8a8a8a';
      ctx.lineWidth = 0.5;
      ctx.strokeRect(a.left + 2, a.top + 0.8, 20, 5);
      ctx.fillStyle = '#ffffff';
      ctx.font = `bold 4px "${SANS}"`;
      ctx.textAlign = 'left';
      ctx.textBaseline = 'middle';
      ctx.fillText('Volume', a.left + 4, a.top + 3.4);
      // gutter close mark
      ctx.strokeStyle = '#b0b0b0';
      ctx.lineWidth = 0.8;
      ctx.beginPath();
      ctx.moveTo(2.2, a.top + 1);
      ctx.lineTo(5.2, a.top + 4);
      ctx.moveTo(5.2, a.top + 1);
      ctx.lineTo(2.2, a.top + 4);
      ctx.stroke();
      if (g.nav) {
        const y0 = chart.height - 4.5;
        ctx.fillStyle = '#2b2b2b';
        ctx.fillRect(0, y0, 320, 4.5);
        ctx.fillStyle = '#9a9a9a';
        ctx.fillRect(0.5, y0 + 0.5, 3.5, 3.5);
        ctx.fillStyle = '#d4d4d4';
        ctx.fillRect(287, y0 + 0.3, 31.5, 3.9);
        ctx.font = `3.4px "${SANS}"`;
        ctx.textBaseline = 'middle';
        navLabels.forEach((t, i) => {
          ctx.fillStyle = i === navLabels.length - 1 ? '#555555' : '#8a8a8a';
          ctx.fillText(t, navLabelX[i], y0 + 2.3);
        });
      }
      ctx.restore();
    },
  };
  return new Chart(canvas, {
    type: 'bar',
    data: { datasets: [{ data: pts, backgroundColor: cols, barThickness: 1.8, grouped: false }] } as any,
    options: {
      animation: false,
      responsive: false,
      maintainAspectRatio: false,
      devicePixelRatio: 1,
      events: [],
      layout: { padding: { top: g.volPadTop, bottom: 0, left: 0, right: 0 } },
      plugins: { legend: { display: false }, tooltip: { enabled: false } },
      scales: {
        x: xAxis(true, g.volH - g.volPadTop - g.volPlotH, g.xLabelPad),
        y: yAxis('left', 0, p.vMax, p.vStep, volFmt, 24, true),
        y2: yAxis('right', 0, p.vMax, p.vStep, volFmt, 18, false),
      },
    } as any,
    plugins: [deco],
  });
}

function PanelView({ p }: { p: any }) {
  const priceRef = useRef<HTMLCanvasElement | null>(null);
  const volRef = useRef<HTMLCanvasElement | null>(null);
  useEffect(() => {
    if (!priceRef.current || !volRef.current) return;
    const a = buildPrice(priceRef.current, p);
    const b = buildVolume(volRef.current, p);
    return () => {
      a.destroy();
      b.destroy();
    };
  }, [p]);
  const g = p.geo;
  return (
    <div
      style={{
        position: 'absolute',
        left: p.left,
        top: p.top,
        width: 320,
        height: g.priceH + g.volH,
        background: '#000',
        overflow: 'hidden',
      }}
    >
      <canvas
        ref={priceRef}
        width={320}
        height={g.priceH}
        style={{ position: 'absolute', left: 0, top: 0, width: 320, height: g.priceH, display: 'block' }}
      />
      <canvas
        ref={volRef}
        width={320}
        height={g.volH}
        style={{ position: 'absolute', left: 0, top: g.priceH, width: 320, height: g.volH, display: 'block' }}
      />
    </div>
  );
}

export default function App() {
  return (
    <div
      style={{
        position: 'fixed',
        left: 0,
        top: 0,
        width: 640,
        height: 354,
        background: '#000',
        overflow: 'hidden',
      }}
    >
      {PANELS.map((p) => (
        <PanelView key={p.key} p={p} />
      ))}
    </div>
  );
}
